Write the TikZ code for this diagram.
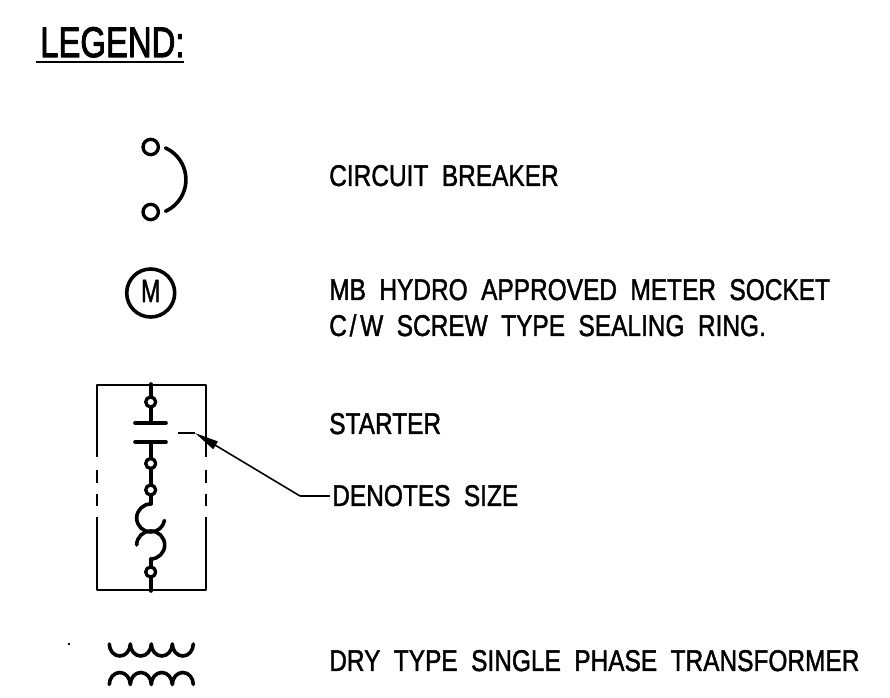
\documentclass[tikz,border=0pt]{standalone}
\usepackage{fontspec}
\setmainfont{Liberation Sans}[RawFeature={embolden=1.6}]
\newfontfamily\titlefont{Liberation Sans}[RawFeature={embolden=2.6}]
\usetikzlibrary{arrows.meta}
\newcommand{\cadtext}[2][0.815]{\scalebox{#1}[1]{\spaceskip=0.55em\relax #2}}
\tikzset{
  cad/.style={x=0.75pt,y=-0.75pt,line cap=round,line join=round},
  thin line/.style={line width=1.5pt,line cap=butt},
  thick line/.style={line width=2.7pt},
  pin/.style={circle,draw,line width=2.5pt,minimum size=7.5pt,inner sep=0pt,fill=white},
  lbl/.style={anchor=base west,inner sep=0pt,font=\fontsize{22.5pt}{27pt}\selectfont},
  leader/.style={line width=1.2pt,line cap=butt}
}
\begin{document}
\begin{tikzpicture}[cad]
\useasboundingbox (0,0) rectangle (890,698);
% title
\node[lbl,font=\fontsize{32pt}{36pt}\titlefont] (title) at (40,57) {\cadtext[0.77]{LEGEND:}};
\coordinate (ula) at (36,62); \coordinate (ulb) at (184,62);
\draw[line width=1.9pt,line cap=butt] (ula) -- (ulb);
% breaker
\node[pin,minimum size=11.5pt] (cb1) at (150.7,147) {};
\node[pin,minimum size=11.5pt] (cb2) at (150.7,212) {};
\draw[thick line] (165.5,148) arc[start angle=65.7,end angle=-65.7,radius=26.025pt];
% meter
\node[circle,draw,line width=2.7pt,minimum size=36pt,inner sep=0pt] (meter) at (150.7,293) {};
\node[anchor=base,inner sep=0pt,font=\fontsize{24pt}{26pt}\selectfont] (mlbl) at (150.7,302) {\scalebox{0.72}[1]{M}};
% starter box
\coordinate (bl) at (96.7,590); \coordinate (br) at (205.7,590);
\coordinate (tl) at (96.7,385); \coordinate (tr) at (205.7,385);
\draw[thin line] (96.7,457) -- (tl) -- (tr) -- (205.7,457);
\draw[thin line] (96.7,517) -- (bl) -- (br) -- (205.7,517);
\draw[thin line] (96.7,470) -- (96.7,483) (96.7,494) -- (96.7,506);
\draw[thin line] (205.7,470) -- (205.7,483) (205.7,494) -- (205.7,506);
% starter core
\coordinate (s0) at (150.7,384); \coordinate (s1) at (150.7,423);
\coordinate (s2) at (150.7,442); \coordinate (s3) at (150.7,504);
\coordinate (s4) at (150.7,559); \coordinate (s5) at (150.7,591);
\draw[thick line] (s0) -- (s1) (135,423) -- (166,423) (135,442) -- (166,442) (s2) -- (s3);
\draw[thick line] (s3) arc[start angle=90,end angle=350,radius=10.5pt];
\draw[thick line] (136.7,545) arc[start angle=180,end angle=-90,radius=10.5pt];
\draw[thick line] (s4) -- (s5);
\node[pin] (p1) at (150.7,402) {};
\node[pin] (p2) at (150.7,463.5) {};
\node[pin] (p3) at (150.7,490) {};
\node[pin] (p4) at (150.7,572) {};
% dimension leader
\coordinate (d1) at (178,433); \coordinate (d2) at (195,433);
\coordinate (elbow) at (300,496); \coordinate (lend) at (330,496);
\draw[leader] (d1) -- (d2);
\draw[leader,-{Triangle[length=18pt,width=6.5pt]}] (elbow) -- (d2);
\draw[leader] (elbow) -- (lend);
% transformer
\draw[thick line] (109.3,644) arc[start angle=180,end angle=360,x radius=7.875pt,y radius=9pt]
  arc[start angle=180,end angle=360,x radius=7.875pt,y radius=9pt]
  arc[start angle=180,end angle=360,x radius=7.875pt,y radius=9pt]
  arc[start angle=180,end angle=360,x radius=7.875pt,y radius=9pt];
\draw[thick line] (109.3,684.5) arc[start angle=180,end angle=0,x radius=7.875pt,y radius=9pt]
  arc[start angle=180,end angle=0,x radius=7.875pt,y radius=9pt]
  arc[start angle=180,end angle=0,x radius=7.875pt,y radius=9pt]
  arc[start angle=180,end angle=0,x radius=7.875pt,y radius=9pt];
\fill (69,644) circle[radius=1pt];
% labels
\node[lbl] (t1) at (329,186) {\cadtext{CIRCUIT BREAKER}};
\node[lbl] (t2) at (329,300) {\cadtext{MB HYDRO APPROVED METER SOCKET}};
\node[lbl] (t3) at (329,336) {\cadtext{C\kern2.5pt/\kern3.5pt W SCREW TYPE SEALING RING.}};
\node[lbl] (t4) at (329,434) {\cadtext{STARTER}};
\node[lbl] (t5) at (332,506) {\cadtext{DENOTES SIZE}};
\node[lbl] (t6) at (329,671) {\cadtext{DRY TYPE SINGLE PHASE TRANSFORMER}};
\end{tikzpicture}
\end{document}
